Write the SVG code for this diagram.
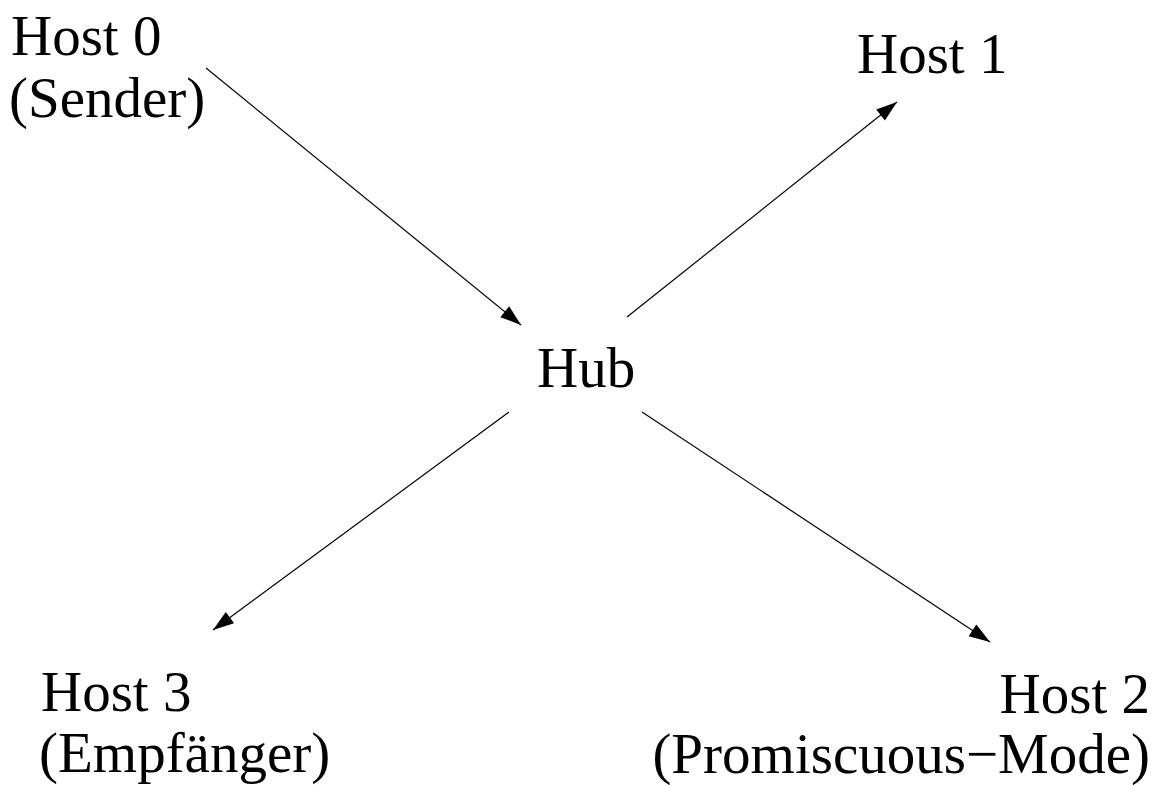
<svg xmlns="http://www.w3.org/2000/svg" width="1159" height="785" viewBox="0 0 1159 785">
<style>
text{font-family:"Liberation Serif","Times New Roman",serif;font-size:57px;fill:#000}
.c{stroke:#000;stroke-width:1.2;fill:none;marker-end:url(#ah)}
</style>
<defs>
<marker id="ah" markerUnits="userSpaceOnUse" markerWidth="22" markerHeight="16" refX="21" refY="7" orient="auto" overflow="visible">
<path d="M0,0 L21,7 L0,14 Z" fill="#000"/>
</marker>
</defs>
<rect width="1159" height="785" fill="#fff"/>
<g id="connectors">
<line class="c" x1="206" y1="68" x2="521" y2="325"/>
<line class="c" x1="627" y1="317" x2="897" y2="102"/>
<line class="c" x1="509" y1="412" x2="213" y2="630"/>
<line class="c" x1="642" y1="412" x2="990" y2="642"/>
</g>
<g id="host0"><text x="11" y="55">Host 0</text><text x="9" y="117">(Sender)</text></g>
<g id="host1"><text x="857" y="73">Host 1</text></g>
<g id="hub"><text x="537" y="387">Hub</text></g>
<g id="host3"><text x="41" y="711">Host 3</text><text x="39" y="772">(Empfänger)</text></g>
<g id="host2"><text x="1150" y="713" text-anchor="end">Host 2</text><text x="1150" y="773" text-anchor="end">(Promiscuous−Mode)</text></g>
</svg>
